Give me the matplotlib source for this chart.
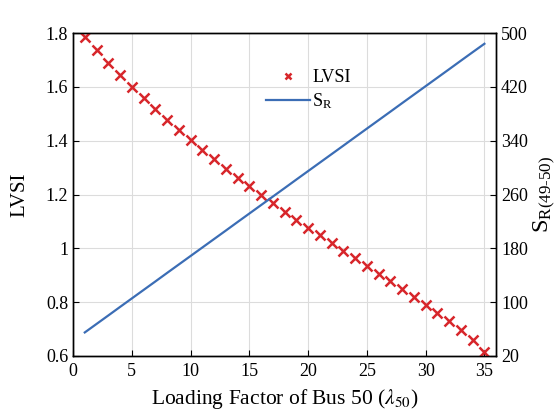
import numpy as np
import matplotlib
matplotlib.use("Agg")
import matplotlib.pyplot as plt

# loading factor of bus 50
lam = [1, 2, 3, 4, 5, 6, 7, 8, 9, 10, 11, 12, 13, 14, 15, 16, 17, 18,
       19, 20, 21, 22, 23, 24, 25, 26, 27, 28, 29, 30, 31, 32, 33, 34, 35]
lvsi = [1.784, 1.736, 1.687, 1.644, 1.598, 1.558, 1.517, 1.477, 1.438,
        1.401, 1.364, 1.331, 1.295, 1.260, 1.232, 1.198, 1.167, 1.134,
        1.104, 1.075, 1.049, 1.019, 0.989, 0.963, 0.933, 0.905, 0.878,
        0.848, 0.818, 0.788, 0.759, 0.730, 0.696, 0.659, 0.616]
s_r = [55.0, 67.6, 80.2, 92.9, 105.5, 118.1, 130.7, 143.4, 156.0, 168.6,
       181.2, 193.8, 206.4, 219.1, 231.7, 244.3, 256.9, 269.5, 282.2, 294.8,
       307.4, 320.0, 332.6, 345.3, 357.9, 370.5, 383.1, 395.8, 408.4, 421.0,
       433.6, 446.2, 458.9, 471.5, 484.0]

x_ticks = [0, 5, 10, 15, 20, 25, 30, 35]
left_ticks = [0.6, 0.8, 1.0, 1.2, 1.4, 1.6, 1.8]
left_labels = ["0.6", "0.8", "1", "1.2", "1.4", "1.6", "1.8"]
right_ticks = [20, 100, 180, 260, 340, 420, 500]

plt.rcParams["font.family"] = ["Liberation Serif", "DejaVu Serif"]
plt.rcParams["mathtext.fontset"] = "stix"

fig = plt.figure(figsize=(5.6, 4.2), dpi=100)
ax = fig.add_axes([0.1304, 0.1524, 0.7556, 0.769])
ax2 = ax.twinx()

red = "#d7262b"
blue = "#3b6db5"

h1, = ax.plot(lam, lvsi, "x", color=red, ms=6.5, mew=1.8, label="LVSI", zorder=3)
h2, = ax2.plot(lam, s_r, "-", color=blue, lw=1.6, label="S$_\\mathregular{R}$")

ax.set_xlim(0, 36)
ax.set_ylim(0.6, 1.8)
ax2.set_ylim(20, 500)
ax.set_xticks(x_ticks)
ax.set_yticks(left_ticks)
ax.set_yticklabels(left_labels)
ax2.set_yticks(right_ticks)

ax.grid(True, color="#dcdcdc", lw=0.8)
ax.set_axisbelow(True)

for a in (ax, ax2):
    a.tick_params(direction="in", length=4, width=0.8, labelsize=13, colors="black")
    for s in a.spines.values():
        s.set_linewidth(1.0)
ax.tick_params(axis="x", pad=5)

ax.set_xlabel("Loading Factor of Bus 50 ($\\lambda_{50}$)", fontsize=15.5, labelpad=5)
ax.set_ylabel("LVSI", fontsize=15, labelpad=12)
ax2.set_ylabel("S$_{\\mathregular{R(49\u201050)}}$", fontsize=17.5, labelpad=3)

leg = ax.legend(handles=[h1, h2], loc="upper left", bbox_to_anchor=(0.44, 0.91),
                frameon=False, fontsize=13, handlelength=2.4, handletextpad=0.15,
                labelspacing=0.3, borderaxespad=0)
leg.legend_handles[0].set_markersize(5)

fig.savefig("out.png", dpi=100)
